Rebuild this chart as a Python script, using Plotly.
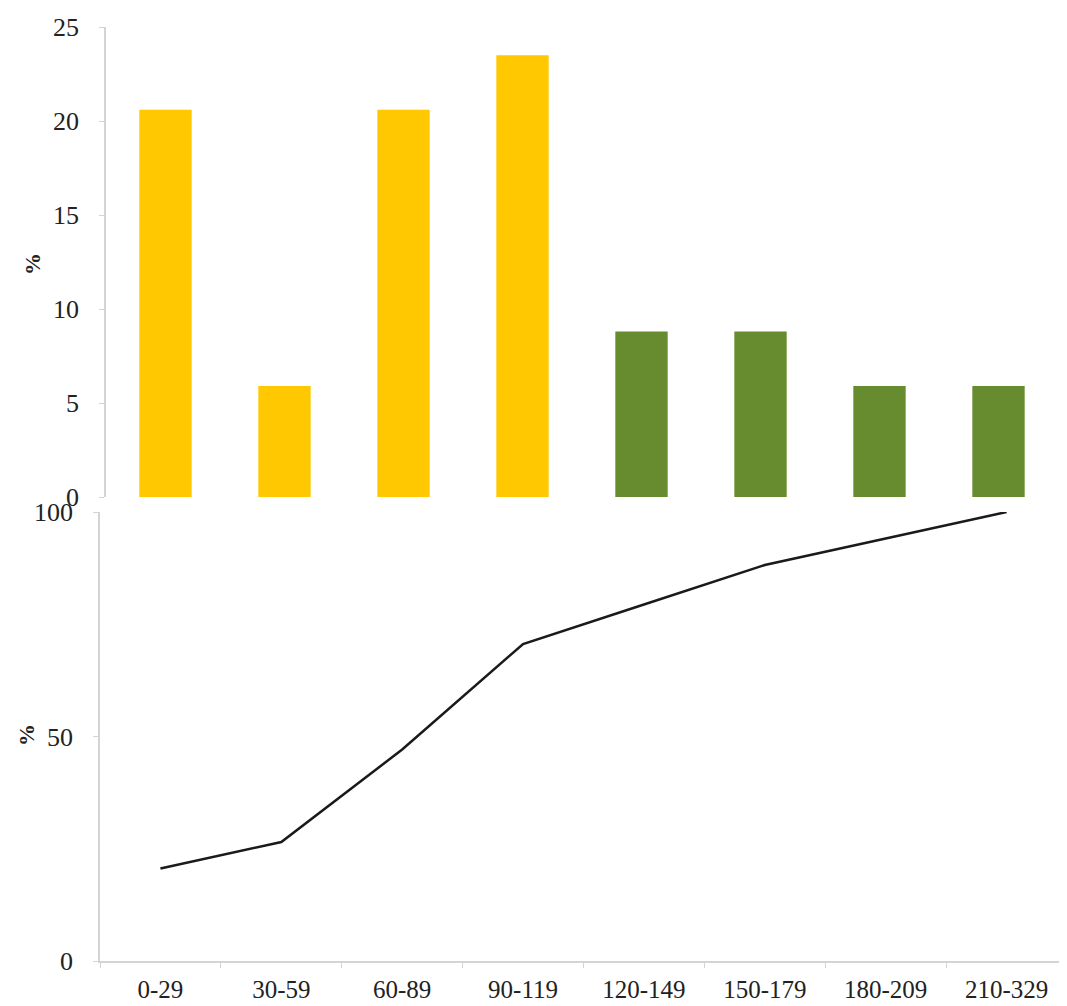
import plotly.graph_objects as go

categories = ["0-29", "30-59", "60-89", "90-119", "120-149", "150-179", "180-209", "210-329"]
bar_values = [20.6, 5.9, 20.6, 23.5, 8.8, 8.8, 5.9, 5.9]
bar_colors = ["#FFC800", "#FFC800", "#FFC800", "#FFC800", "#678C2F", "#678C2F", "#678C2F", "#678C2F"]
cumulative = [20.6, 26.5, 47.1, 70.6, 79.4, 88.2, 94.1, 100.0]
top_ticks = [0, 5, 10, 15, 20, 25]
bottom_ticks = [0, 50, 100]

# page has an 8px body margin; figure pixel = reference pixel - 8
OFF = 8
W, H = 1067 - OFF, 1006 - OFF
def px(p):
    return (p - OFF) / W
def py(p):
    return 1 - (p - OFF) / H

font = dict(family="Liberation Serif, Times New Roman, serif", size=26, color="#222222")
axis_color = "#d4d4d4"

fig = go.Figure()
fig.add_trace(go.Bar(x=categories, y=bar_values, marker=dict(color=bar_colors, line=dict(width=0)),
                     width=0.44, xaxis="x", yaxis="y", showlegend=False))
fig.add_trace(go.Scatter(x=categories, y=cumulative, mode="lines", line=dict(color="#1a1a1a", width=2.5),
                         xaxis="x2", yaxis="y2", showlegend=False))

common_axis = dict(showgrid=False, zeroline=False, automargin=False)

fig.update_layout(
    template="none",
    width=W, height=H,
    margin=dict(l=0, r=0, t=0, b=0, pad=0),
    paper_bgcolor="white", plot_bgcolor="white",
    font=font,
    xaxis=dict(domain=[px(106), px(1058)], anchor="y", range=[-0.5, 7.5], showticklabels=False,
               showline=False, ticks="", **common_axis),
    yaxis=dict(domain=[py(497), py(27)], anchor="x", range=[0, 25], tickvals=top_ticks,
               showline=True, linecolor=axis_color, linewidth=1.5, ticks="outside", ticklen=5,
               tickcolor=axis_color, ticklabelstandoff=15, **common_axis),
    xaxis2=dict(domain=[px(100), 1.0], anchor="y2", range=[-0.5, 7.5], tickson="boundaries",
                showline=True, linecolor=axis_color, linewidth=1.5, ticks="outside", ticklen=5,
                tickcolor=axis_color, ticklabelstandoff=5, tickfont=dict(size=25), **common_axis),
    yaxis2=dict(domain=[py(961), py(512)], anchor="x2", range=[0, 100], tickvals=bottom_ticks,
                showline=True, linecolor=axis_color, linewidth=1.5, ticks="outside", ticklen=5,
                tickcolor=axis_color, ticklabelstandoff=15, **common_axis),
    annotations=[
        dict(text="<b>%</b>", x=px(32), y=py(264), xref="paper", yref="paper", showarrow=False,
             xanchor="center", yanchor="middle",
             textangle=-90, font=dict(family="Liberation Serif, serif", size=22, color="#222222")),
        dict(text="<b>%</b>", x=px(26), y=py(735), xref="paper", yref="paper", showarrow=False,
             xanchor="center", yanchor="middle",
             textangle=-90, font=dict(family="Liberation Serif, serif", size=22, color="#222222")),
    ],
)

fig.write_html("out.html")
